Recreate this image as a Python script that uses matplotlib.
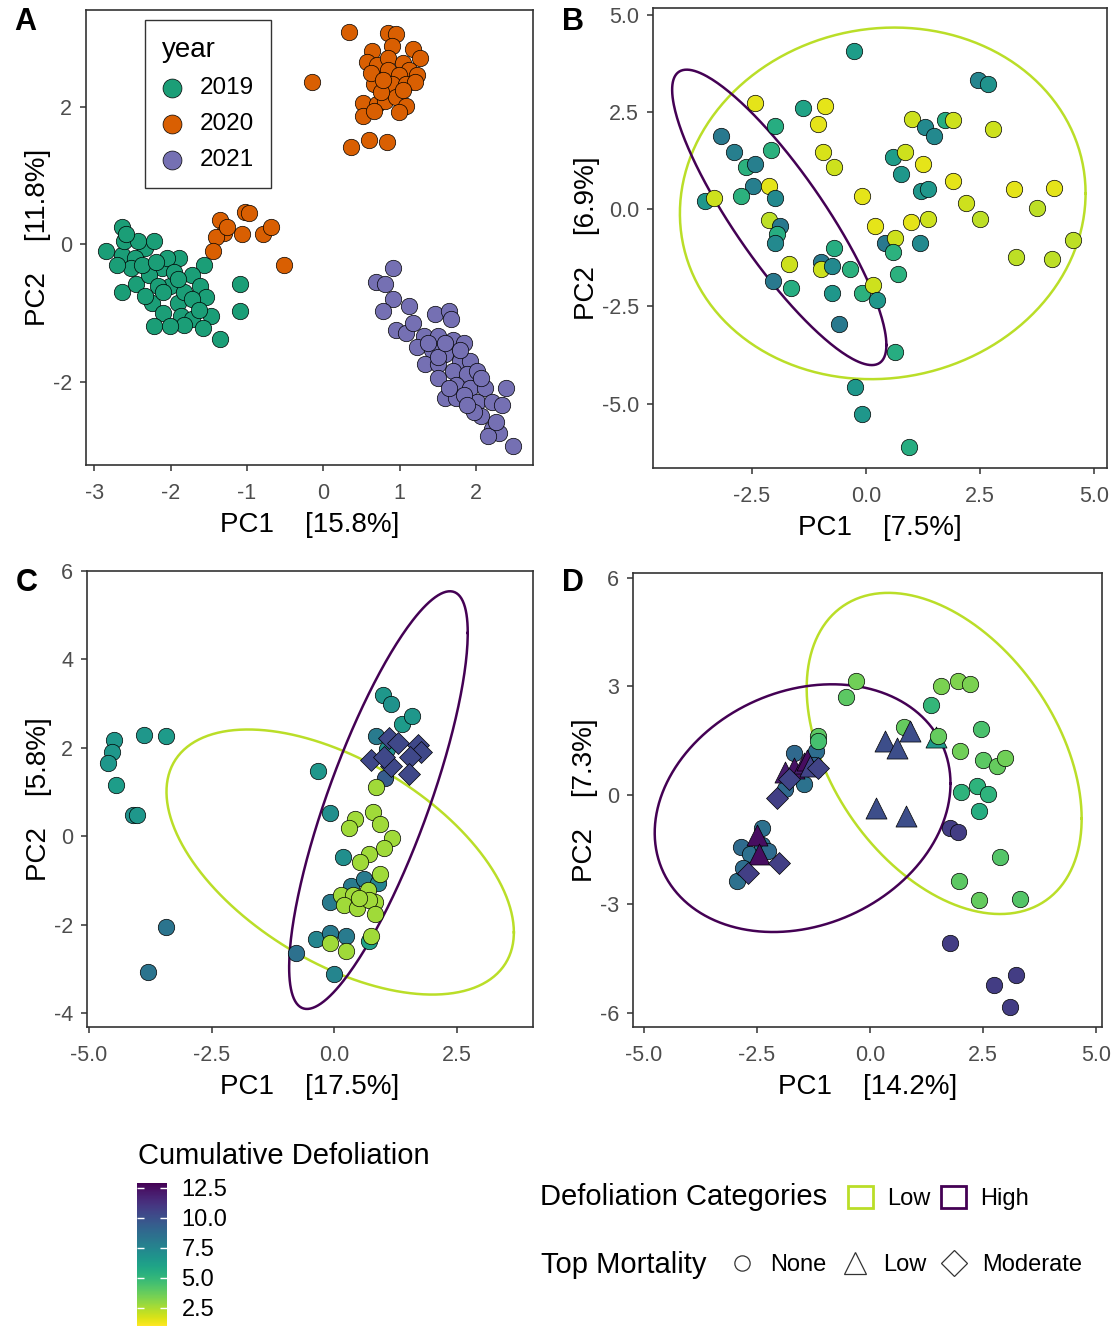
import numpy as np
import matplotlib.pyplot as plt
from matplotlib.colors import Normalize
from matplotlib.cm import ScalarMappable
from matplotlib.lines import Line2D
from matplotlib.patches import Patch

plt.rcParams['font.family'] = ['Liberation Sans', 'DejaVu Sans']

# ---------------- data ----------------
# Panel A: PCA coloured by year
a19_pc1 = [-2.64, -2.85, -2.64, -2.33, -2.22, -2.47, -2.52, -2.12, -1.89, -1.56, -2.64, -2.45, -2.29, -2.01, -1.72,
           -1.61, -2.24, -1.91, -1.54, -2.10, -1.87, -1.72, -1.47, -2.22, -1.82, -1.58, -1.35, -1.09, -1.09, -2.38,
           -2.05, -2.17, -2.61, -2.43, -1.82, -2.10, -2.33, -1.72, -1.96, -2.71, -2.19, -1.91, -1.63, -2.01, -2.58]
a19_pc2 = [0.25, -0.10, -0.15, -0.05, 0.05, -0.20, -0.35, -0.35, -0.20, -0.30, -0.70, -0.57, -0.45, -0.60, -0.45,
           -0.60, -0.85, -0.85, -0.77, -1.00, -1.04, -1.09, -1.04, -1.19, -1.17, -1.22, -1.37, -0.57, -0.97, -0.30,
           -0.20, -0.60, 0.05, 0.05, -0.70, -0.70, -0.75, -0.80, -0.40, -0.30, -0.25, -0.50, -0.95, -1.19, 0.15]
a20_pc1 = [0.34, 0.85, 0.95, 0.64, 0.90, 1.18, 1.27, 0.57, 0.71, 0.85, 1.04, 1.13, 0.85, 0.99, 1.23, 0.67, 0.90,
           1.09, 1.20, 0.52, 0.71, 0.81, 0.95, 1.09, 0.52, 0.67, 0.99, -0.15, 0.36, 0.60, 0.83, 0.76, 1.04, 0.62,
           0.78, -1.35, -1.02, -0.97, -1.30, -1.40, -1.07, -0.79, -0.69, -1.44, -0.51, -1.26]
a20_pc2 = [3.09, 3.08, 3.06, 2.81, 2.89, 2.84, 2.71, 2.66, 2.61, 2.71, 2.64, 2.54, 2.54, 2.46, 2.46, 2.34, 2.34,
           2.34, 2.36, 2.06, 2.04, 2.09, 2.14, 2.01, 1.87, 1.94, 1.92, 2.36, 1.42, 1.52, 1.49, 2.21, 2.24, 2.49,
           2.39, 0.35, 0.47, 0.45, 0.17, 0.10, 0.15, 0.15, 0.25, -0.10, -0.30, 0.25]
a21_pc1 = [0.92, 0.69, 0.81, 0.92, 0.78, 1.13, 1.46, 1.65, 1.67, 0.95, 1.09, 1.18, 1.32, 1.51, 1.70, 1.84, 1.23,
           1.42, 1.60, 1.79, 1.93, 1.34, 1.51, 1.70, 1.88, 2.02, 1.51, 1.74, 1.93, 2.12, 1.60, 1.74, 2.02, 2.21,
           2.40, 2.35, 2.07, 2.21, 2.31, 2.16, 2.49, 1.98, 1.84, 1.65, 1.51, 1.79, 1.37, 1.60, 2.07, 1.88, 2.26]
a21_pc2 = [-0.35, -0.55, -0.57, -0.80, -0.97, -0.90, -1.02, -0.97, -1.09, -1.24, -1.29, -1.14, -1.34, -1.34, -1.39,
           -1.44, -1.49, -1.54, -1.59, -1.69, -1.69, -1.74, -1.74, -1.84, -1.89, -1.84, -1.94, -2.04, -2.09, -2.09,
           -2.24, -2.24, -2.29, -2.29, -2.09, -2.34, -2.49, -2.69, -2.74, -2.79, -2.94, -2.44, -2.19, -2.09, -1.64,
           -1.54, -1.44, -1.44, -1.94, -2.34, -2.59]
years = ['2019', '2020', '2021']
year_colors = ['#1b9e77', '#d95f02', '#7570b3']

# Panel B
b_pc1 = [-0.27, 2.47, 2.67, -2.43, -1.37, -0.90, -1.06, -2.00, -3.18, -2.90, -2.08, -0.94, -0.71, -2.63, -2.43,
         -2.47, -2.12, -2.00, -3.53, -3.33, -2.75, -2.12, -1.88, -1.96, -2.00, -1.69, -0.98, -0.98, -0.75, -0.71,
         -0.35, -2.04, -1.65, -0.75, -0.09, 0.16, 0.24, -0.59, 0.63, -0.24, -0.08, 0.94, -0.08, 0.20, 0.43, 0.63,
         0.59, 0.71, 0.59, 0.86, 0.78, 0.98, 1.18, 1.02, 1.29, 1.49, 1.73, 1.92, 2.78, 1.25, 1.22, 1.37, 1.37,
         1.92, 2.20, 2.51, 3.25, 3.76, 4.12, 3.29, 4.08, 4.55]
b_pc2 = [4.06, 3.31, 3.22, 2.73, 2.60, 2.64, 2.20, 2.15, 1.88, 1.48, 1.53, 1.48, 1.08, 1.08, 1.17, 0.60, 0.60,
         0.28, 0.20, 0.28, 0.33, -0.29, -0.43, -0.65, -0.87, -1.40, -1.36, -1.54, -1.45, -1.00, -1.54, -1.85,
         -2.03, -2.16, -2.16, -1.94, -2.34, -2.96, -3.67, -4.56, -5.27, -6.12, 0.33, -0.43, -0.87, -0.74, -1.09,
         -1.67, 1.35, 1.48, 0.91, -0.34, -0.87, 2.33, 2.11, 1.88, 2.28, 2.28, 2.06, 1.17, 0.46, 0.51, -0.25,
         0.73, 0.15, -0.25, 0.51, 0.02, 0.55, -1.23, -1.27, -0.78]
b_defol = [6.3, 7.5, 6.8, 1.5, 6.0, 1.5, 1.5, 5.5, 8.1, 7.8, 5.3, 1.7, 1.9, 5.3, 7.8, 7.8, 1.5, 7.3, 6.6, 1.9,
           5.3, 2.2, 8.1, 5.5, 7.3, 1.9, 8.1, 1.9, 7.3, 5.5, 5.3, 8.1, 5.5, 6.6, 5.3, 1.9, 6.6, 8.1, 5.5, 6.6,
           6.6, 5.5, 1.5, 1.5, 8.1, 1.9, 5.3, 5.3, 6.3, 1.9, 6.6, 1.5, 7.3, 1.9, 7.3, 7.3, 5.5, 1.9, 1.9, 1.5,
           6.6, 6.6, 1.9, 1.5, 1.9, 2.2, 1.5, 2.2, 1.5, 2.2, 2.2, 2.2]

# Panel C
c_pc1 = [-4.48, -4.53, -4.62, -4.44, -3.88, -3.44, -4.11, -4.02, -3.44, -3.80,
         -0.34, -0.09, 0.17, 0.99, 1.15, 1.37, 1.59, 0.86, 1.08, 1.04,
         1.12, 1.30, 1.70, 1.77, 1.55, 0.75, 1.15, 1.52, 1.01,
         0.35, 0.60, 0.90, -0.09, -0.38, -0.09, 0.24, -0.78, -0.01, 0.71,
         0.86, 0.79, 0.42, 0.31, 0.93, 1.18, 1.01, 0.71, 0.53, 0.93, 0.13, 0.39, 0.68, 0.82, 0.20, 0.46,
         0.71, 0.82, 0.75, -0.09, 0.24, 0.50]
c_pc2 = [2.19, 1.91, 1.67, 1.17, 2.29, 2.28, 0.48, 0.48, -2.04, -3.07,
         1.48, 0.53, -0.47, 3.19, 2.99, 2.53, 2.72, 2.26, 1.98, 1.32,
         2.22, 2.10, 2.06, 1.91, 1.79, 1.73, 1.59, 1.40, 1.79,
         -1.13, -0.97, -1.05, -1.48, -2.33, -2.18, -2.26, -2.64, -3.11, -2.37,
         1.12, 0.54, 0.39, 0.19, 0.27, -0.04, -0.27, -0.39, -0.58, -0.86, -1.32, -1.32, -1.21, -1.48, -1.56,
         -1.63, -1.44, -1.75, -2.26, -2.41, -2.60, -1.40]
c_defol = [6.6, 6.6, 6.6, 6.3, 6.6, 6.4, 6.9, 6.6, 8.3, 8.3,
           6.6, 7.0, 7.0, 6.6, 6.9, 6.4, 6.6, 8.0, 7.0, 9.5,
           10.3, 10.3, 10.3, 10.3, 10.3, 10.3, 10.3, 10.3, 10.3,
           8.0, 8.0, 7.5, 8.0, 7.5, 8.0, 8.0, 8.5, 7.5, 6.0,
           2.7, 2.7, 2.7, 2.7, 2.7, 2.7, 2.7, 2.7, 2.7, 2.7, 2.7, 2.7, 2.7, 2.7, 2.7, 2.7,
           2.7, 2.7, 2.7, 2.7, 2.7, 2.7]
c_mort = ['None'] * 20 + ['Moderate'] * 9 + ['None'] * 32

# Panel D
d_pc1 = [-0.30, -0.53, 1.58, 1.94, 2.21, 1.35, 2.45, 0.76, 1.98, 2.49, 2.80, 2.99, 2.02, 2.37, 2.60, 2.41,
         2.88, 1.96, 2.41, 3.31, 1.78, 1.94, 1.78, 2.75, 3.23, 3.09,
         0.33, 0.60, 0.88, 1.47, 0.13, 0.80, 1.51,
         -1.67, -1.20, -1.87, -1.47, -1.24,
         -1.87, -1.67, -1.47, -1.40, -1.32,
         -2.06, -1.16, -1.79, -1.16, -1.16,
         -2.38, -2.85, -2.65, -2.38, -2.26, -2.93, -2.81,
         -2.49, -2.45, -2.02, -2.69]
d_pc2 = [3.15, 2.72, 3.01, 3.15, 3.06, 2.49, 1.83, 1.87, 1.21, 0.97, 0.79, 1.02, 0.08, 0.26, 0.03, -0.44,
         -1.72, -2.37, -2.90, -2.86, -0.92, -1.01, -4.09, -5.24, -4.97, -5.84,
         1.49, 1.31, 1.78, 1.59, -0.35, -0.59, 1.64,
         1.16, 1.21, 0.17, 0.31, 0.83,
         0.64, 0.74, 0.88, 0.97, 0.79,
         -0.07, 0.74, 0.45, 1.64, 1.49,
         -0.92, -1.44, -1.63, -1.39, -1.53, -2.38, -2.01,
         -1.11, -1.63, -1.86, -2.15]
d_defol = [3.6, 4.0, 3.4, 3.3, 3.4, 5.0, 4.4, 3.8, 3.6, 4.0, 3.8, 3.6, 5.2, 5.2, 5.2, 5.5,
           4.2, 4.0, 3.8, 4.2, 10.8, 10.8, 10.8, 10.8, 10.8, 10.8,
           10.1, 10.1, 10.1, 6.5, 10.1, 10.1, 3.8,
           8.9, 8.7, 8.9, 8.4, 9.1,
           12.0, 12.3, 12.0, 12.5, 10.5,
           10.7, 10.5, 10.5, 4.0, 4.5,
           8.5, 8.8, 8.5, 8.5, 8.8, 8.5, 8.7,
           12.5, 12.5, 10.7, 10.7]
d_mort = (['None'] * 26 + ['Low'] * 6 + ['None'] + ['None'] * 5 + ['Low'] * 5 + ['Moderate'] * 3
          + ['None'] * 2 + ['None'] * 7 + ['Low'] * 2 + ['Moderate'] * 2)

# Normal-data ellipses: centre x, centre y, axis vector u (x, y), axis vector v (x, y)
b_ell_low = [0.37, 0.15, 4.45, 0.26, 0.0, 4.51]
b_ell_high = [-1.90, -0.21, 2.35, -3.28, 0.0, 1.91]
c_ell_low = [0.12, -0.58, 3.54, -1.59, 0.0, 2.54]
c_ell_high = [0.90, 0.82, 1.82, 3.78, 0.0, 2.83]
d_ell_low = [1.64, 1.15, 3.04, -1.80, 0.0, 4.05]
d_ell_high = [-1.49, -0.36, 3.27, 0.68, 0.0, 3.35]

LOW_C = '#BADE28'
HIGH_C = '#440154'
marker_map = {'None': 'o', 'Low': '^', 'Moderate': 'D'}
size_map = {'None': 140, 'Low': 230, 'Moderate': 125}

cmap = plt.get_cmap('viridis_r')
norm = Normalize(1.0, 12.9)

# ---------------- figure ----------------
W, H = 1118, 1326
fig = plt.figure(figsize=(W / 100, H / 100), dpi=100)


def px_axes(l, t, r, b):
    return fig.add_axes([l / W, 1 - b / H, (r - l) / W, (b - t) / H])


def style(ax, xlim, ylim, xticks, yticks, xlab, ylab, xfmt, yfmt):
    ax.set_xlim(xlim)
    ax.set_ylim(ylim)
    ax.set_xticks(xticks)
    ax.set_yticks(yticks)
    ax.set_xticklabels([xfmt.format(v) for v in xticks])
    ax.set_yticklabels([yfmt.format(v) for v in yticks])
    for s in ax.spines.values():
        s.set_color('#333333')
        s.set_linewidth(1.2)
    ax.tick_params(length=4.5, width=1.1, color='#333333', labelcolor='#4D4D4D', labelsize=15.5)
    ax.tick_params(axis='x', pad=8.5)
    ax.tick_params(axis='y', pad=5.5)
    ax.set_xlabel(xlab, fontsize=20, labelpad=5.5)
    ax.set_ylabel(ylab, fontsize=20, labelpad=1.5)


def ellipse(ax, p, color):
    t = np.linspace(0, 2 * np.pi, 300)
    ax.plot(p[0] + p[2] * np.cos(t) + p[4] * np.sin(t),
            p[1] + p[3] * np.cos(t) + p[5] * np.sin(t), color=color, lw=1.8, zorder=1)


def scatter_mort(ax, x, y, v, mort):
    for xi, yi, vi, mi in zip(x, y, v, mort):
        ax.scatter(xi, yi, c=[vi], cmap=cmap, norm=norm, marker=marker_map[mi],
                   s=size_map[mi], edgecolors='black', linewidths=0.5, zorder=2)


# Panel A
axA = px_axes(86, 10, 533, 465)
for xs, ys, lab, col in zip([a19_pc1, a20_pc1, a21_pc1], [a19_pc2, a20_pc2, a21_pc2], years, year_colors):
    axA.scatter(xs, ys, s=140, color=col, edgecolors='black', linewidths=0.5, label=lab, zorder=2)
style(axA, (-3.11, 2.75), (-3.21, 3.41), [-3, -2, -1, 0, 1, 2], [-2, 0, 2],
      'PC1    [15.8%]', 'PC2    [11.8%]', '{:g}', '{:g}')
leg = axA.legend(loc='upper left', bbox_to_anchor=(0.132, 0.978), title='year', fontsize=17.5,
                 title_fontsize=20, frameon=True, fancybox=False, edgecolor='black', markerscale=1.15,
                 handlelength=0.82, handletextpad=0.74, labelspacing=0.58, borderpad=0.7,
                 alignment='left', borderaxespad=0)
leg.get_frame().set_linewidth(1.0)

# Panel B
axB = px_axes(653, 8, 1107, 468)
ellipse(axB, b_ell_low, LOW_C)
ellipse(axB, b_ell_high, HIGH_C)
scatter_mort(axB, b_pc1, b_pc2, b_defol, ['None'] * len(b_pc1))
style(axB, (-4.67, 5.29), (-6.65, 5.17), [-2.5, 0, 2.5, 5.0], [-5.0, -2.5, 0, 2.5, 5.0],
      'PC1    [7.5%]', 'PC2    [6.9%]', '{:.1f}', '{:.1f}')

# Panel C
axC = px_axes(87, 571, 533, 1027)
ellipse(axC, c_ell_low, LOW_C)
ellipse(axC, c_ell_high, HIGH_C)
scatter_mort(axC, c_pc1, c_pc2, c_defol, c_mort)
style(axC, (-5.04, 4.05), (-4.31, 6.0), [-5.0, -2.5, 0, 2.5], [-4, -2, 0, 2, 4, 6],
      'PC1    [17.5%]', 'PC2    [5.8%]', '{:.1f}', '{:g}')

# Panel D
axD = px_axes(633, 573, 1102, 1027)
ellipse(axD, d_ell_low, LOW_C)
ellipse(axD, d_ell_high, HIGH_C)
scatter_mort(axD, d_pc1, d_pc2, d_defol, d_mort)
style(axD, (-5.24, 5.13), (-6.4, 6.13), [-5.0, -2.5, 0, 2.5, 5.0], [-6, -3, 0, 3, 6],
      'PC1    [14.2%]', 'PC2    [7.3%]', '{:.1f}', '{:g}')

# panel letters
for lab, (x, y) in zip('ABCD', [(25, 22), (573, 22), (27, 583), (573, 583)]):
    fig.text(x / W, 1 - y / H, lab, fontsize=22, fontweight='bold', ha='center', va='center')

# colour bar legend
fig.text(138 / W, 1 - 1156 / H, 'Cumulative Defoliation', fontsize=21, va='center', ha='left')
cax = fig.add_axes([137 / W, 0, 30 / W, (1326 - 1183) / H])
cb = fig.colorbar(ScalarMappable(norm=norm, cmap=cmap), cax=cax)
cb.outline.set_visible(False)
cb.set_ticks([2.5, 5.0, 7.5, 10.0, 12.5])
cb.set_ticklabels(['2.5', '5.0', '7.5', '10.0', '12.5'])
cax.yaxis.set_ticks_position('both')
cax.yaxis.set_label_position('right')
cax.tick_params(axis='y', direction='in', length=5, width=1, color='white', labelsize=17,
                pad=10.5, labelleft=False, labelright=True)

# defoliation categories legend
fig.text(540 / W, 1 - 1197 / H, 'Defoliation Categories', fontsize=21, va='center', ha='left')
cat_handles = [Patch(facecolor='white', edgecolor=LOW_C, linewidth=2.0, label='Low'),
               Patch(facecolor='white', edgecolor=HIGH_C, linewidth=2.0, label='High')]
fig.legend(handles=cat_handles, loc='center left', bbox_to_anchor=(827 / W, 1 - 1198 / H), ncol=2,
           frameon=False, handlelength=1.05, handleheight=1.05, handletextpad=0.6, columnspacing=0.45,
           fontsize=17)

# mortality legend
fig.text(541 / W, 1 - 1265 / H, 'Top Mortality', fontsize=21, va='center', ha='left')
mort_handles = [Line2D([], [], marker=marker_map[m], linestyle='none', markerfacecolor='white',
                       markeredgecolor='#333333', markersize=ms, markeredgewidth=0.9, label=m)
                for m, ms in zip(['None', 'Low', 'Moderate'], [11, 16, 13])]
fig.legend(handles=mort_handles, loc='center left', bbox_to_anchor=(709 / W, 1 - 1265 / H), ncol=3,
           frameon=False, handlelength=1.0, handletextpad=0.69, columnspacing=0.7, fontsize=17)

fig.savefig('out.png', dpi=100)
